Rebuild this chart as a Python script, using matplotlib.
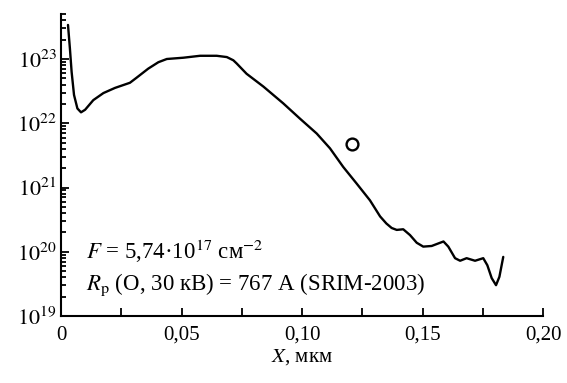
import numpy as np
import matplotlib
matplotlib.use('Agg')
import matplotlib.pyplot as plt
from matplotlib.ticker import LogLocator, MultipleLocator, NullFormatter

plt.rcParams['font.family'] = ['Liberation Serif', 'DejaVu Serif']
plt.rcParams['mathtext.fontset'] = 'stix'

# ==============================
# Data
# ==============================
depth_um = [0.0029, 0.0037, 0.0044, 0.0054, 0.0068, 0.0083, 0.0100, 0.0134, 0.0176,
            0.0224, 0.0286, 0.0314, 0.0362, 0.0404, 0.0439, 0.0508, 0.0577, 0.0646,
            0.0688, 0.0715, 0.0729, 0.0770, 0.0840, 0.0922, 0.0992, 0.1061, 0.1116,
            0.1171, 0.1227, 0.1282, 0.1324, 0.1350, 0.1372, 0.1393, 0.1420, 0.1448,
            0.1476, 0.1503, 0.1538, 0.1587, 0.1607, 0.1635, 0.1656, 0.1683, 0.1718,
            0.1752, 0.1769, 0.1787, 0.1805, 0.1819, 0.1835]
log_conc = [23.53, 23.16, 22.80, 22.44, 22.23, 22.17, 22.21, 22.36, 22.47,
            22.55, 22.63, 22.71, 22.85, 22.95, 23.00, 23.02, 23.05, 23.05,
            23.03, 22.98, 22.93, 22.77, 22.57, 22.31, 22.07, 21.84, 21.61,
            21.32, 21.06, 20.80, 20.55, 20.44, 20.37, 20.34, 20.35, 20.26,
            20.14, 20.08, 20.09, 20.16, 20.08, 19.90, 19.86, 19.90, 19.86,
            19.90, 19.79, 19.59, 19.48, 19.61, 19.92]
conc = [10 ** v for v in log_conc]

point_x = [0.1206]
point_y = [10 ** 21.67]

x_ticks = [0, 0.05, 0.10, 0.15, 0.20]
x_tick_labels = ['0', '0,05', '0,10', '0,15', '0,20']
y_ticks = [1e19, 1e20, 1e21, 1e22, 1e23]
y_tick_labels = ['$10^{19}$', '$10^{20}$', '$10^{21}$', '$10^{22}$', '$10^{23}$']

# ==============================
# Plot
# ==============================
fig = plt.figure(figsize=(5.67, 3.83), dpi=100)
ax = fig.add_axes([0.1076, 0.1749, 0.8501, 0.7885])

ax.plot(depth_um, conc, color='black', lw=1.7, solid_joinstyle='round', solid_capstyle='round')
ax.plot(point_x, point_y, 'o', mfc='white', mec='black', ms=8.5, mew=1.7)

ax.set_yscale('log')
ax.set_xlim(0, 0.20)
ax.set_ylim(1e19, 10 ** 23.70)

for s in ['top', 'right']:
    ax.spines[s].set_visible(False)
for s in ['left', 'bottom']:
    ax.spines[s].set_linewidth(1.5)

ax.set_xticks(x_ticks)
ax.set_xticklabels(x_tick_labels)
ax.xaxis.set_minor_locator(MultipleLocator(0.025))
ax.set_yticks(y_ticks)
ax.set_yticklabels(y_tick_labels)
ax.yaxis.set_minor_locator(LogLocator(base=10, subs=np.arange(2, 10), numticks=20))
ax.yaxis.set_minor_formatter(NullFormatter())

ax.tick_params(axis='both', which='both', direction='in', width=1.3)
ax.tick_params(axis='x', which='both', length=6, pad=7, labelsize=15)
ax.tick_params(axis='y', which='major', length=6, pad=3, labelsize=16)
ax.tick_params(axis='y', which='minor', length=3.5)

ax.set_xlabel('$X$, мкм', fontsize=15, labelpad=2)

ax.text(0.052, 0.19, '$F$ = 5,74·10$^{17}$ см$^{-2}$', transform=ax.transAxes,
        fontsize=16.5, va='baseline')
ax.text(0.052, 0.085, '$R_\\mathrm{p}$ (O, 30 кВ) = 767 A (SRIM-2003)', transform=ax.transAxes,
        fontsize=16.5, va='baseline')

fig.savefig('out.png', dpi=100)
